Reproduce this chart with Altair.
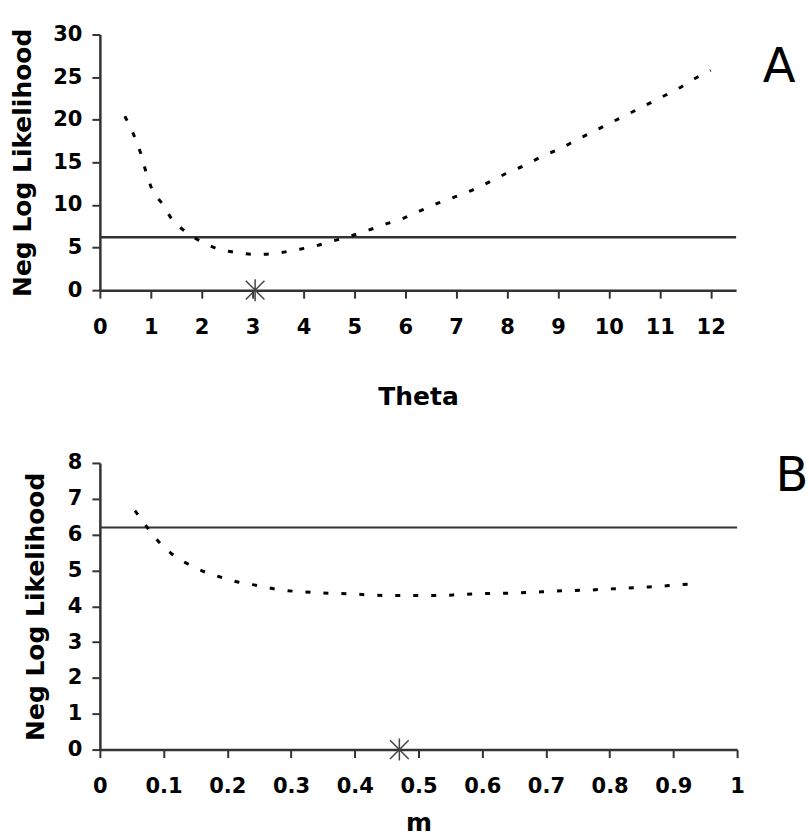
import altair as alt
import pandas as pd

# Panel A: negative log likelihood profile over theta
theta = [0.49, 0.66, 0.80, 0.90, 1.02, 1.23, 1.42, 1.70, 1.99, 2.34, 2.70, 3.06,
         3.44, 3.82, 4.18, 4.54, 4.90, 5.26, 5.59, 5.95, 6.29, 6.64, 7.00, 7.34,
         7.69, 8.02, 8.37, 8.69, 9.04, 9.36, 9.69, 10.02, 10.36, 10.69, 11.02,
         11.35, 11.68, 12.00]
nll_theta = [20.4, 18.3, 16.1, 14.0, 11.9, 10.1, 8.3, 6.8, 5.7, 4.8, 4.4, 4.2,
             4.3, 4.7, 5.1, 5.7, 6.3, 7.0, 7.7, 8.4, 9.3, 10.2, 11.0, 11.8,
             12.8, 13.8, 14.7, 15.7, 16.6, 17.6, 18.6, 19.6, 20.6, 21.6, 22.6,
             23.6, 24.8, 25.8]

# Panel B: negative log likelihood profile over m
m_vals = [0.055, 0.073, 0.091, 0.113, 0.136, 0.163, 0.190, 0.218, 0.247, 0.275,
          0.304, 0.333, 0.361, 0.390, 0.419, 0.447, 0.476, 0.505, 0.533, 0.567,
          0.594, 0.623, 0.652, 0.680, 0.709, 0.738, 0.766, 0.795, 0.823, 0.852,
          0.881, 0.909, 0.940]
nll_m = [6.67, 6.23, 5.83, 5.46, 5.20, 4.97, 4.81, 4.67, 4.58, 4.48,
         4.42, 4.39, 4.36, 4.35, 4.32, 4.30, 4.30, 4.30, 4.30, 4.33,
         4.35, 4.36, 4.37, 4.39, 4.42, 4.44, 4.45, 4.48, 4.50, 4.53,
         4.56, 4.60, 4.62]

cutoff = 6.2          # support limit line
theta_best = 3.05     # maximum likelihood estimate of theta
m_best = 0.47         # maximum likelihood estimate of m

theta_ticks = list(range(0, 13))
nll_a_ticks = [0, 5, 10, 15, 20, 25, 30]
m_ticks = [0, 0.1, 0.2, 0.3, 0.4, 0.5, 0.6, 0.7, 0.8, 0.9, 1]
nll_b_ticks = [0, 1, 2, 3, 4, 5, 6, 7, 8]

FONT = "DejaVu Sans"
STAR = "M0,-1L0,1M-0.85,-0.85L0.85,0.85M-0.85,0.85L0.85,-0.85"
YTITLE = "Neg Log Likelihood"


def panel(xs, ys, best, x_dom, x_ticks, x_title, y_dom, y_ticks,
          width, height, x_lab_pad, x_title_pad, y_title_pad, letter,
          letter_x, letter_y, rule_w):
    x_enc = alt.X("x:Q", scale=alt.Scale(domain=x_dom, nice=False, zero=False),
                  axis=alt.Axis(title=x_title, values=x_ticks, format="~g",
                                labelPadding=x_lab_pad, titlePadding=x_title_pad,
                                labelFlush=False, labelOverlap=False))
    y_enc = alt.Y("y:Q", scale=alt.Scale(domain=y_dom, nice=False),
                  axis=alt.Axis(title=YTITLE, values=y_ticks, labelPadding=10,
                                titlePadding=y_title_pad, labelOverlap=False))

    curve = alt.Chart(pd.DataFrame({"x": xs, "y": ys})).mark_line(
        color="black", strokeWidth=3, strokeDash=[5, 13],
        interpolate="monotone").encode(x=x_enc, y=y_enc)

    limit = alt.Chart(pd.DataFrame({"y": [cutoff]})).mark_rule(
        color="#333333", strokeWidth=rule_w).encode(y=y_enc)

    star = alt.Chart(pd.DataFrame({"x": [best], "y": [0]})).mark_point(
        shape=STAR, filled=False, size=484, strokeWidth=1.5,
        color="#444444", opacity=1).encode(x=x_enc, y=y_enc)

    label = alt.Chart(pd.DataFrame({"t": [letter]})).mark_text(
        font=FONT, fontSize=48, align="center", baseline="alphabetic",
        color="black").encode(text="t:N", x=alt.value(letter_x),
                              y=alt.value(letter_y))

    return alt.layer(limit, curve, star, label).properties(
        width=width, height=height)


panel_a = panel(theta, nll_theta, theta_best, [0, 12.5], theta_ticks, "Theta",
                [0, 30], nll_a_ticks, 637, 256, 18, 47, 17, "A", 680, 48, 2.5)
panel_b = panel(m_vals, nll_m, m_best, [0, 1], m_ticks, "m",
                [0, 8], nll_b_ticks, 638, 287, 18, 14, 19, "B", 693, 28, 2)

chart = alt.vconcat(panel_a, panel_b, spacing=173, bounds="flush").properties(
    padding={"left": 10, "top": 23, "right": 0, "bottom": 0}
).configure_view(stroke=None).configure_axis(
    grid=False,
    labelFont=FONT, titleFont=FONT,
    labelFontWeight="bold", titleFontWeight="bold",
    labelFontSize=21, titleFontSize=25,
    labelColor="black", titleColor="black",
    domainColor="#333333", tickColor="#333333",
    domainWidth=2.5, tickWidth=2, tickSize=8,
)

chart.save("out.html", embed_options={"renderer": "svg", "actions": False})
